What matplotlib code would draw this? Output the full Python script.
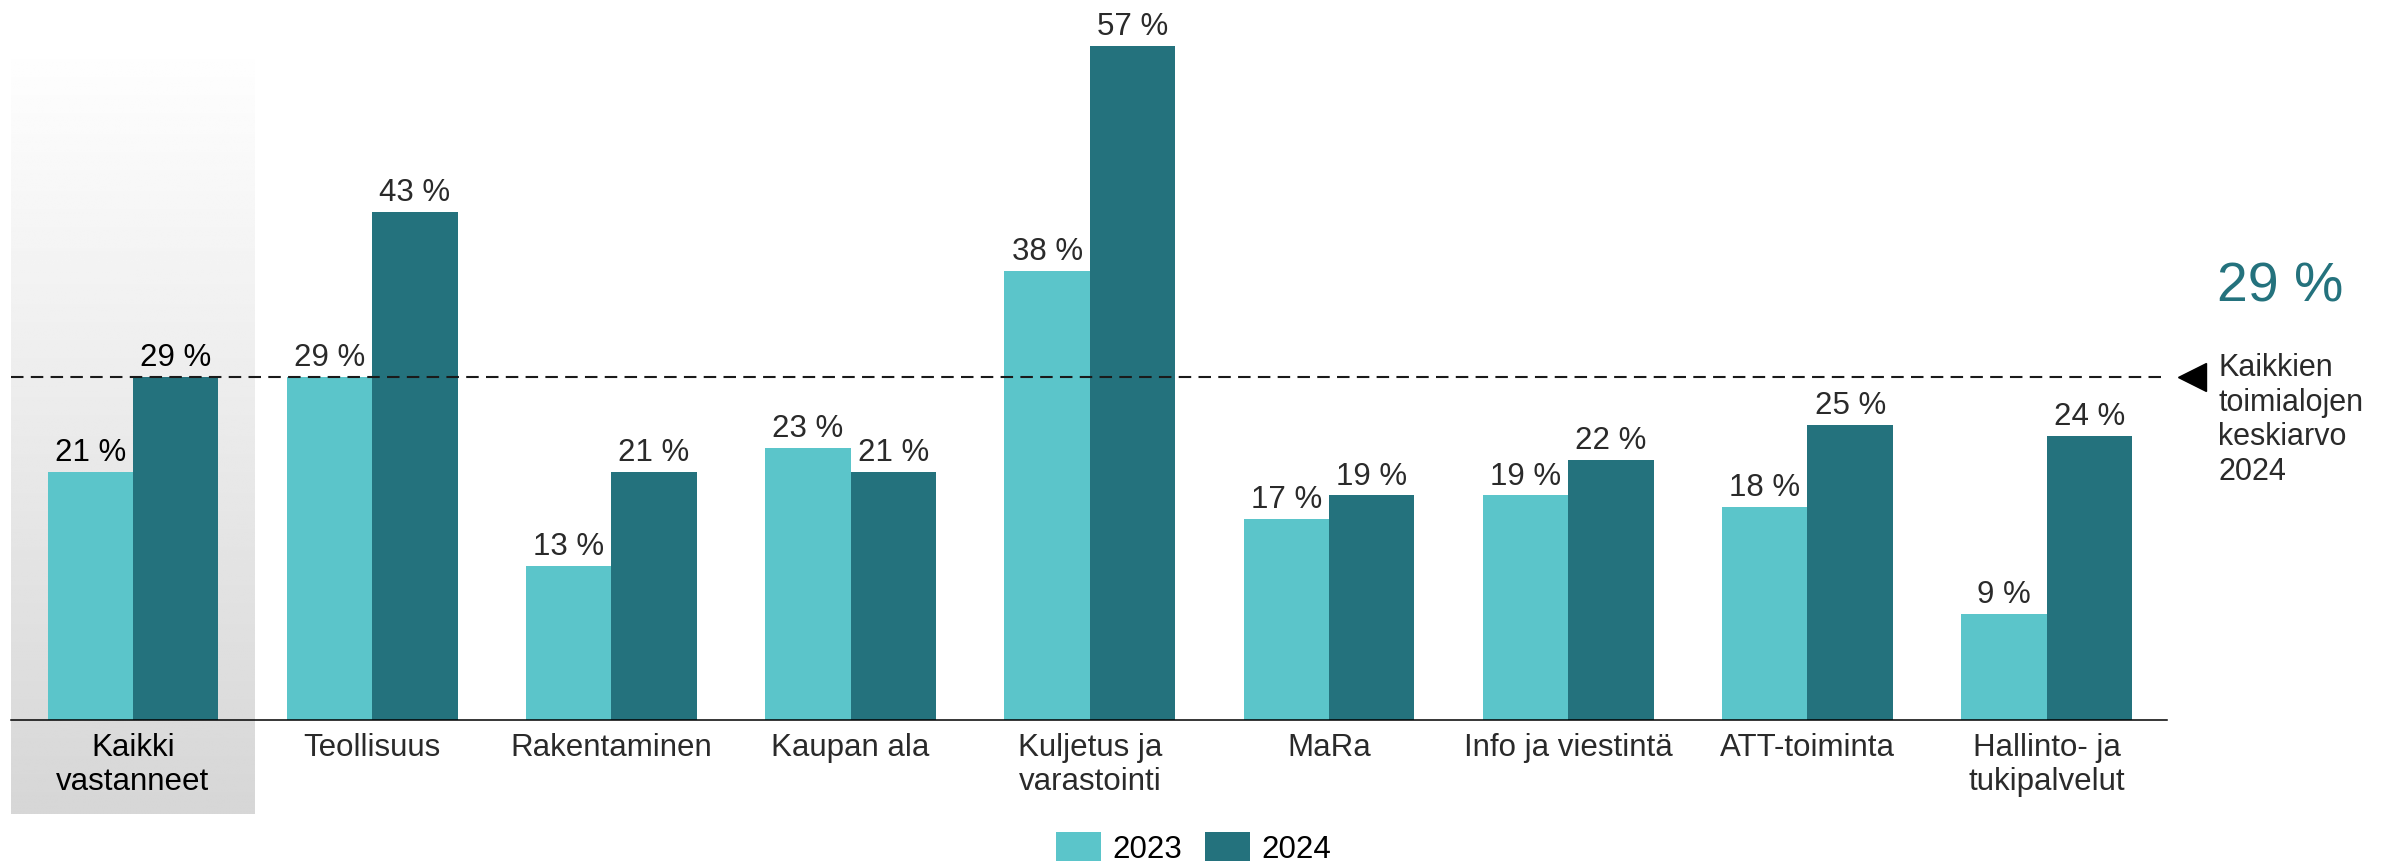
import numpy as np
import matplotlib
matplotlib.use('Agg')
import matplotlib.pyplot as plt
from matplotlib.transforms import blended_transform_factory, offset_copy

plt.rcParams['font.family'] = ['Liberation Sans', 'DejaVu Sans']

# Data
kategoriat = ['Kaikki\nvastanneet', 'Teollisuus', 'Rakentaminen', 'Kaupan ala',
              'Kuljetus ja\nvarastointi', 'MaRa', 'Info ja viestintä',
              'ATT-toiminta', 'Hallinto- ja\ntukipalvelut']
arvot_2023 = [21, 29, 13, 23, 38, 17, 19, 18, 9]
arvot_2024 = [29, 43, 21, 21, 57, 19, 22, 25, 24]
sarjat = ['2023', '2024']
keskiarvo = 29
keskiarvo_teksti = 'Kaikkien\ntoimialojen\nkeskiarvo\n2024'

vari_2023 = '#5bc5ca'
vari_2024 = '#24727d'
tekstivari = '#2a2a2a'

fig = plt.figure(figsize=(23.89, 8.62), dpi=100)
ax = fig.add_axes([11 / 2389, 141 / 862, 2156 / 2389, 721 / 862])

x = np.arange(len(kategoriat))
w = 0.357

# Harmaa taustagradientti ensimmaiselle ryhmalle
grad = np.linspace(0.998, 0.84, 256).reshape(-1, 1)
ax.imshow(grad, cmap='gray', vmin=0, vmax=1, aspect='auto',
          extent=(x[0] - 0.51, x[0] + 0.51, -7.95, 56.7),
          clip_on=False, zorder=0, interpolation='bilinear')

b1 = ax.bar(x - w / 2, arvot_2023, w, color=vari_2023, label=sarjat[0], zorder=2)
b2 = ax.bar(x + w / 2, arvot_2024, w, color=vari_2024, label=sarjat[1], zorder=2)

for bars, vals in [(b1, arvot_2023), (b2, arvot_2024)]:
    for i, (r, v) in enumerate(zip(bars, vals)):
        ax.annotate(f'{v} %', (r.get_x() + r.get_width() / 2, v),
                    xytext=(0, 3.5), textcoords='offset points',
                    ha='center', va='bottom', fontsize=22.5,
                    color='black' if i == 0 else tekstivari, zorder=4)

# Keskiarvoviiva
ax.axhline(keskiarvo, color='#1a1a1a', lw=1.5, ls=(0, (6, 3.5)), zorder=3)

tr = blended_transform_factory(ax.transAxes, ax.transData)
ax.plot([1.0], [keskiarvo], marker='<', ms=20, color='black',
        transform=offset_copy(tr, fig=fig, x=18, y=0, units='points'),
        clip_on=False)
ax.text(1.0, keskiarvo, keskiarvo_teksti,
        transform=offset_copy(tr, fig=fig, x=37, y=18, units='points'),
        ha='left', va='top', fontsize=22, color=tekstivari, linespacing=1.2)
ax.text(1.0, keskiarvo, f'{keskiarvo} %',
        transform=offset_copy(tr, fig=fig, x=36, y=65, units='points'),
        ha='left', va='center', fontsize=40, color=vari_2024)

ax.set_xlim(-0.51, 8.503)
ax.set_ylim(0, 61)
ax.set_xticks(x)
ax.set_xticklabels(kategoriat, fontsize=22.5, color=tekstivari, linespacing=1.15)
ax.get_xticklabels()[0].set_color('black')
ax.tick_params(axis='x', length=0, pad=9)
ax.set_yticks([])
for s in ['top', 'left', 'right']:
    ax.spines[s].set_visible(False)
ax.spines['bottom'].set_linewidth(1.1)
ax.spines['bottom'].set_color('black')
ax.spines['bottom'].set_zorder(5)
ax.patch.set_alpha(0)

fig.legend(loc='center', bbox_to_anchor=(0.4995, 13 / 862), ncol=2, frameon=False,
           fontsize=22.5, handlelength=1.45, handleheight=1.05,
           handletextpad=0.36, columnspacing=0.72)

fig.savefig('out.png', dpi=100)
